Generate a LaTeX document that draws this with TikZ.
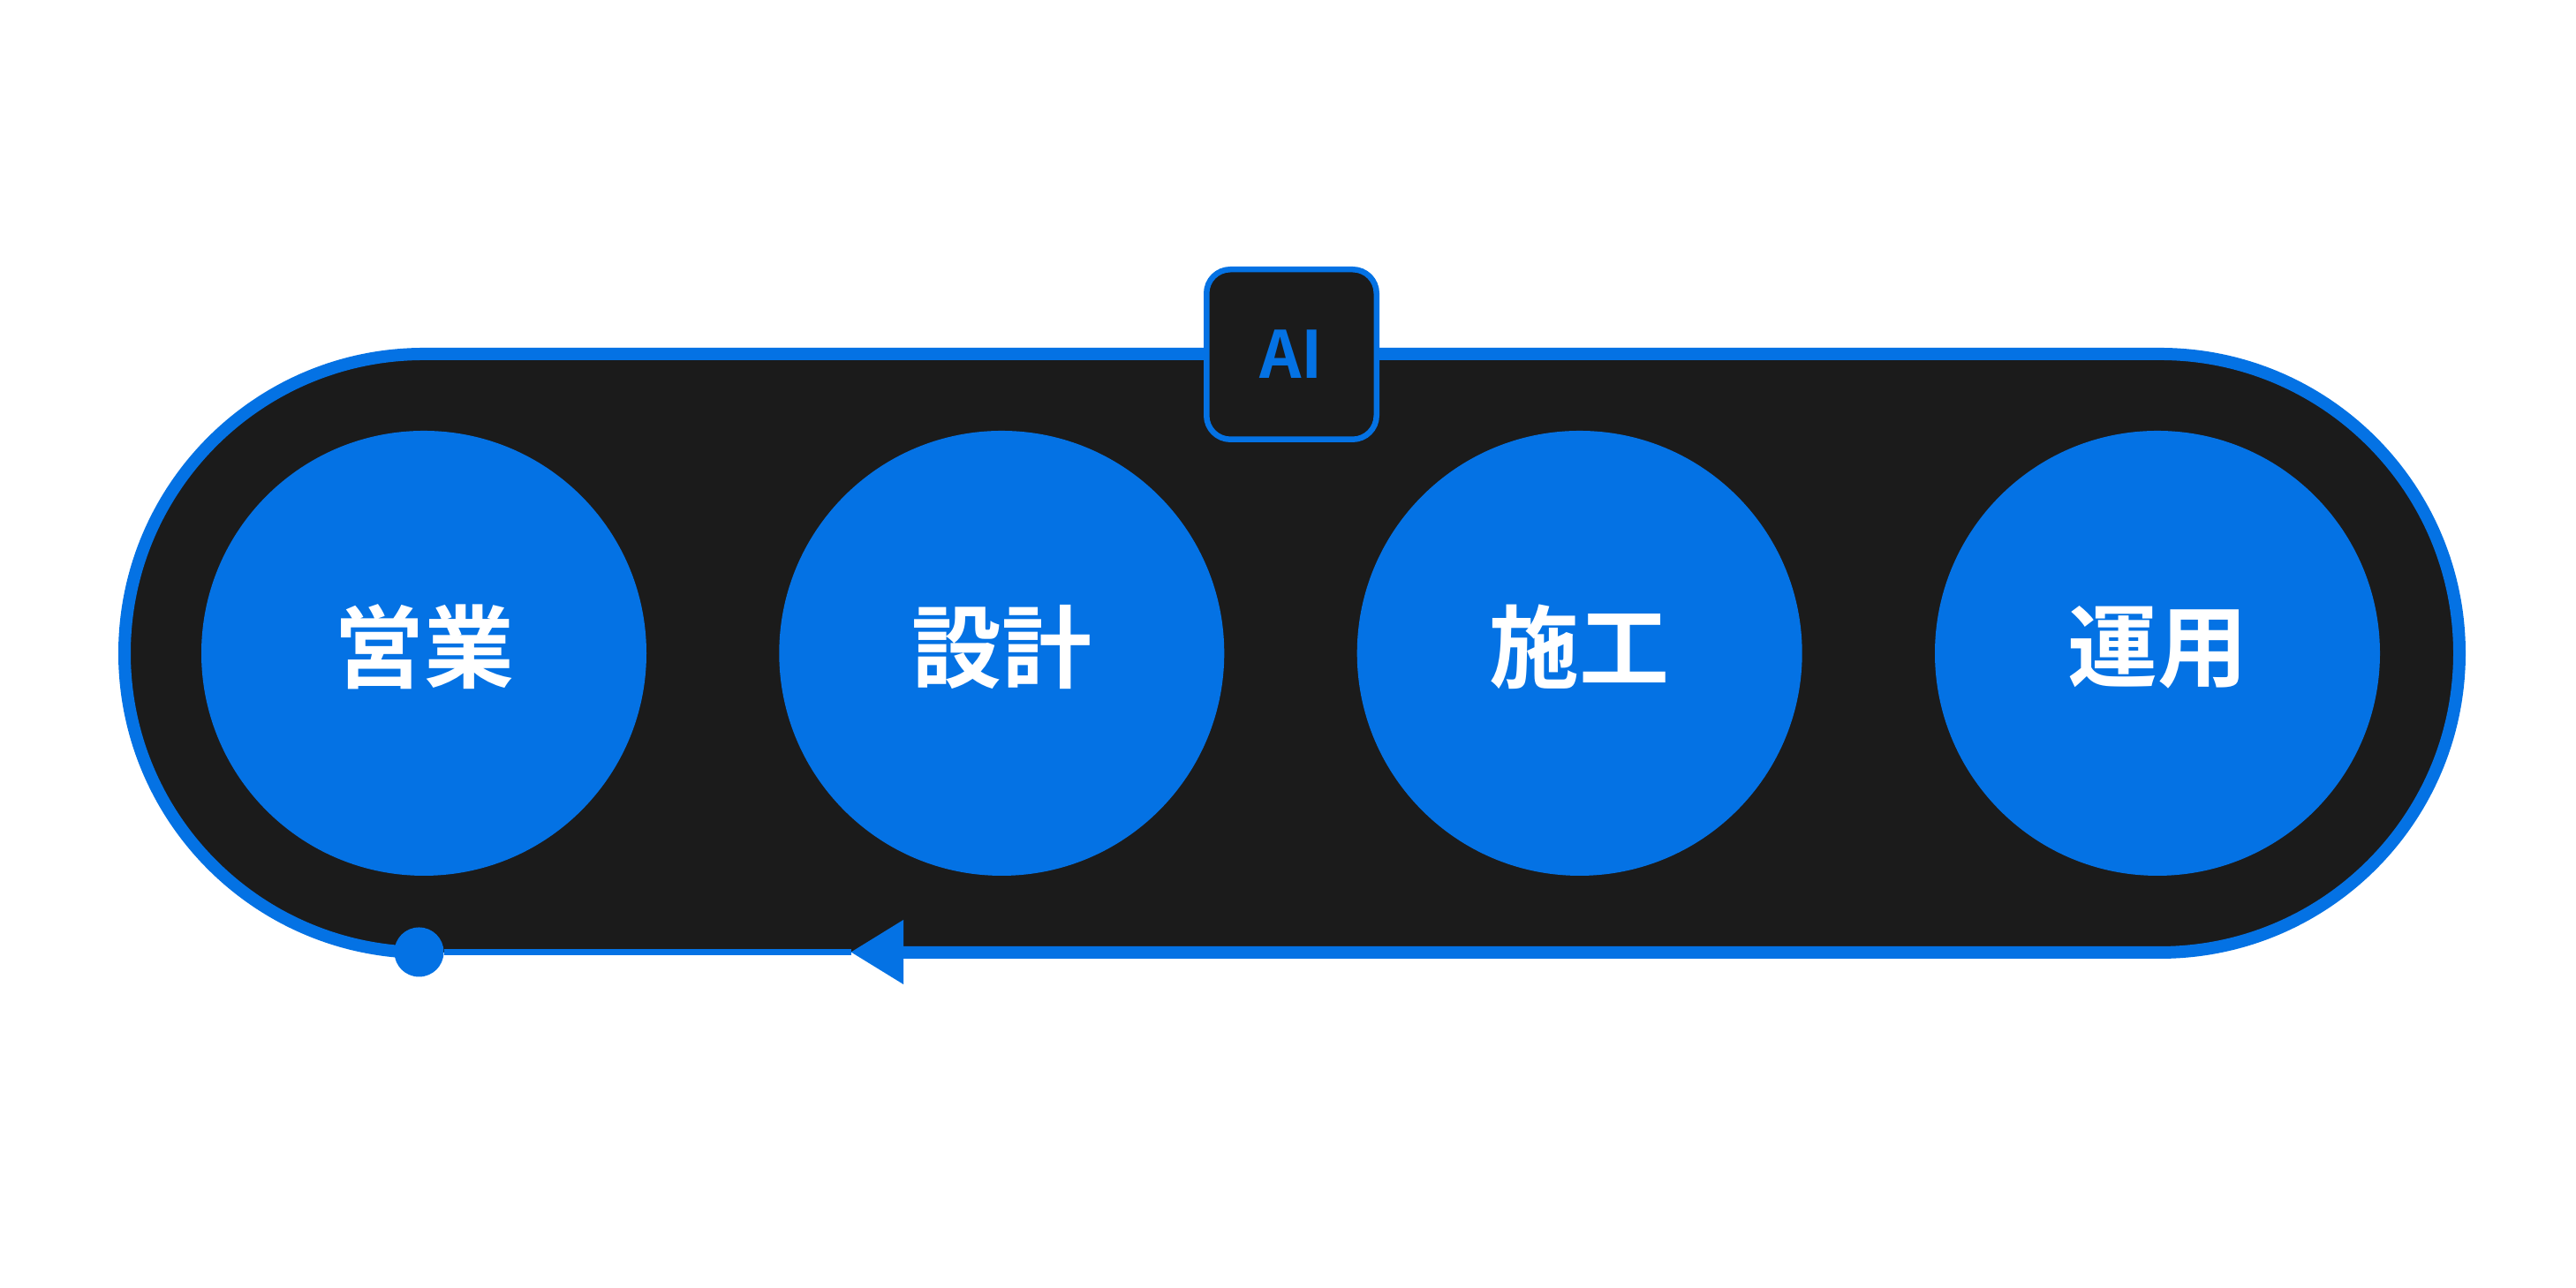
\documentclass[tikz,border=0pt]{standalone}
\usepackage{fontspec}
\newfontfamily\jpfont{Noto Sans CJK JP}[BoldFont={Noto Sans CJK JP Bold}]
\usetikzlibrary{arrows.meta}
\definecolor{flowblue}{HTML}{0472E4}
\definecolor{flowdark}{HTML}{1B1B1B}

\begin{document}
\begin{tikzpicture}[>=Stealth,
  stage/.style={circle,fill=flowblue,minimum size=5.04cm,inner sep=0pt,text=white,
    font=\jpfont\bfseries\fontsize{29}{29}\selectfont},
  aibox/.style={draw=flowblue,fill=flowdark,line width=0.065cm,rounded corners=0.27cm,
    minimum size=1.925cm,inner sep=0pt,text=flowblue,font=\jpfont\bfseries\fontsize{21}{21}\selectfont},
  ring/.style={draw=flowblue,line width=0.14cm}]
  \fill[white] (0,0) rectangle (29.17,14.59);
  \useasboundingbox (0,0) rectangle (29.17,14.59);

  % track
  \fill[flowdark,rounded corners=3.39cm] (1.41,3.80) rectangle (27.85,10.58);
  \draw[ring] (10.23,3.80) -- (24.46,3.80) arc[start angle=-90,end angle=90,radius=3.39]
    -- (4.80,10.58) arc[start angle=90,end angle=270,radius=3.39];

  \node[circle,fill=flowblue,minimum size=0.56cm,inner sep=0pt] (start) at (4.745,3.805) {};
  \coordinate (back) at (9.637,3.805);
  \draw[flowblue,line width=0.07cm] (back) -- (start);
  \fill[flowblue] (back) -- ++(0.593,0.365) -- ++(0,-0.73) -- cycle;

  \foreach \name/\x/\txt in {sales/4.80/営業,design/11.343/設計,build/17.887/施工,ops/24.43/運用}
    \node[stage] (\name) at (\x,7.19) {\raisebox{0.07cm}[\height][\depth]{\txt}};

  \node[aibox] (ai) at (14.625,10.575) {AI};
\end{tikzpicture}
\end{document}
